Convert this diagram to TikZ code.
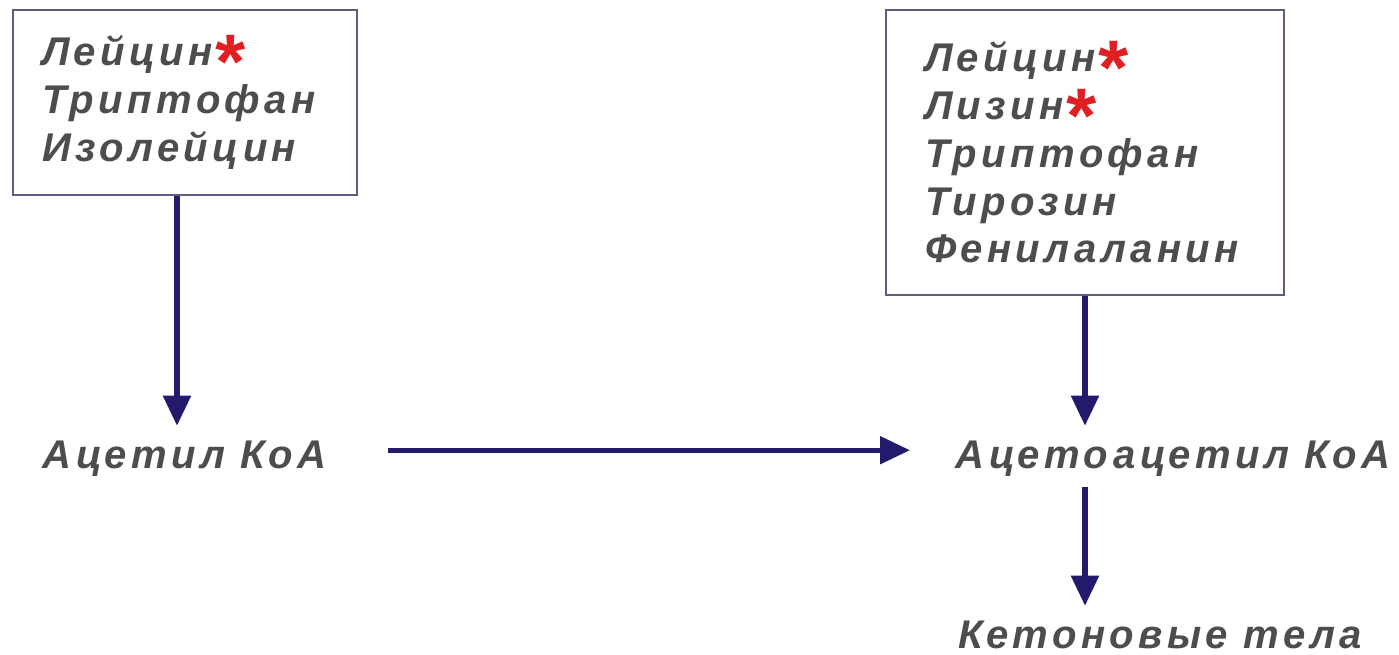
\documentclass[tikz,border=0pt]{standalone}
\usepackage{fontspec}
\usepackage{tikz}
\usetikzlibrary{arrows.meta}
\newfontfamily\aminofont[LetterSpace=11]{Liberation Sans}
\definecolor{textgray}{HTML}{4D4D4D}
\definecolor{flowblue}{HTML}{231A6E}
\definecolor{boxline}{HTML}{5E5E7C}
\definecolor{starred}{HTML}{E02020}
\newcommand{\essential}{\textcolor{starred}{\smash{\raisebox{-6.5pt}{\fontsize{22}{22}\selectfont *}}}}

\begin{document}
\begin{tikzpicture}[
    every node/.style={font=\aminofont\bfseries\itshape\fontsize{11.4}{13.6}\selectfont, text=textgray},
    aminobox/.style={draw=boxline, line width=0.7pt, align=left, anchor=center},
    flow/.style={draw=flowblue, line width=1.5pt, -{Triangle[length=0.3cm, width=0.27cm]}}
  ]
  \useasboundingbox (0,0) rectangle (13.99,6.54);

  \node[aminobox, minimum width=3.44cm, minimum height=1.85cm, text width=2.86cm, inner xsep=0.29cm]
    (lbox) at (1.85,5.515) {Лейцин\essential\\Триптофан\\Изолейцин};
  \node[aminobox, minimum width=3.98cm, minimum height=2.85cm, text width=3.20cm, inner xsep=0.39cm]
    (rbox) at (10.85,5.015) {Лейцин\essential\\Лизин\essential\\Триптофан\\Тирозин\\Фенилаланин};

  \node[anchor=base west, inner sep=0pt] (acetyl) at (0.42,1.86) {Ацетил КоА};
  \node[anchor=base west, inner sep=0pt] (acetoacetyl) at (9.55,1.86) {Ацетоацетил КоА};
  \node[anchor=base west, inner sep=0pt] (ketone) at (9.58,0.06) {Кетоновые тела};

  \draw[flow] ([xshift=-0.08cm]lbox.south) -- ([xshift=-0.08cm]lbox.south |- acetyl.north) [shorten >=0.14cm];
  \draw[flow, shorten <=0.61cm, shorten >=0.45cm] ([yshift=0.08cm]acetyl.east) -- ([yshift=0.08cm]acetoacetyl.west);
  \draw[flow, shorten >=0.14cm] (rbox.south) -- (rbox.south |- acetoacetyl.north);
  \draw[flow, shorten <=0.1cm, shorten >=0.14cm] (rbox.south |- acetoacetyl.south) -- (rbox.south |- ketone.north);
\end{tikzpicture}
\end{document}
